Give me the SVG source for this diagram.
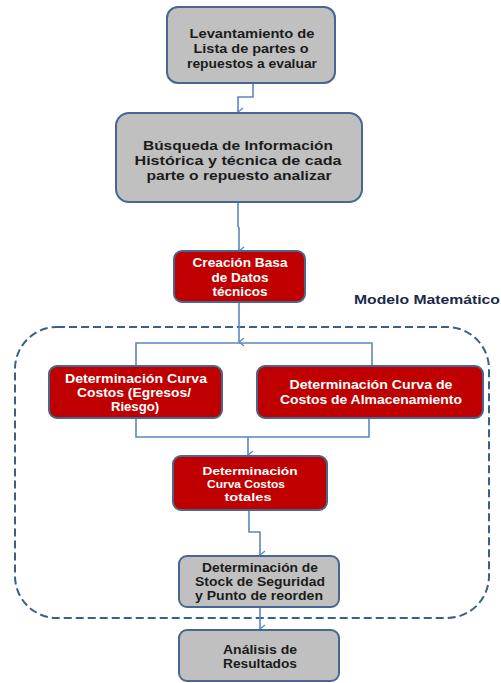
<svg xmlns="http://www.w3.org/2000/svg" width="501" height="683" viewBox="0 0 501 683">
  <style>
    .box { stroke: #46678f; stroke-width: 2; }
    .gray { fill: #c0c0c0; }
    .red { fill: #c00000; }
    .t { font-family: "Liberation Sans", Arial, sans-serif; font-weight: bold; font-size: 12.5px; text-anchor: middle; }
    .s { font-size: 11.5px; }
    .dark { fill: #1c1c1c; }
    .light { fill: #ffffff; }
    .link { fill: none; stroke: #5b87c0; stroke-width: 1.6; }
    .frame { fill: none; stroke: #3a5f8c; stroke-width: 2; stroke-dasharray: 8 4; }
  </style>
  <defs>
    <marker id="arrow" viewBox="0 0 10 10" refX="5" refY="9" markerWidth="10" markerHeight="10" markerUnits="userSpaceOnUse" orient="auto-start-reverse">
      <polyline points="1,4 5,9 9,4" fill="none" stroke="#5b87c0" stroke-width="1.4"/>
    </marker>
  </defs>

  <rect width="501" height="683" fill="#ffffff"/>

  <!-- dashed frame of the mathematical model -->
  <g id="modelo">
    <rect class="frame" x="15" y="327" width="474" height="291" rx="42" ry="42"/>
    <text class="t" x="427" y="304" fill="#1a2a48" font-size="13" textLength="146" lengthAdjust="spacingAndGlyphs">Modelo Matemático</text>
  </g>

  <!-- connectors -->
  <g id="connectors">
    <path class="link" d="M253,83 V97 H238 V112" marker-end="url(#arrow)"/>
    <path class="link" d="M238,202 V226 L239,228 V251" marker-end="url(#arrow)"/>
    <path class="link" d="M239,302 V342" marker-end="url(#arrow)"/>
    <path class="link" d="M136,366 V343 H372 V366"/>
    <path class="link" d="M136,418 V437 H369 V418"/>
    <path class="link" d="M248,437 V455" marker-end="url(#arrow)"/>
    <path class="link" d="M249,510 V532 H260 V555" marker-end="url(#arrow)"/>
    <path class="link" d="M260,607 V629" marker-end="url(#arrow)"/>
  </g>

  <g id="levantamiento">
    <rect class="box gray" x="167" y="7" width="168" height="76" rx="11"/>
    <text class="t dark" x="252" y="38" textLength="125" lengthAdjust="spacingAndGlyphs">Levantamiento  de</text>
    <text class="t dark" x="251" y="53" textLength="115" lengthAdjust="spacingAndGlyphs">Lista de partes  o</text>
    <text class="t dark" x="252" y="68" textLength="130" lengthAdjust="spacingAndGlyphs">repuestos a evaluar</text>
  </g>

  <g id="busqueda">
    <rect class="box gray" x="116" y="113" width="246" height="89" rx="13"/>
    <text class="t dark" x="238" y="150" textLength="190" lengthAdjust="spacingAndGlyphs">Búsqueda de Información</text>
    <text class="t dark" x="238" y="165" textLength="207" lengthAdjust="spacingAndGlyphs">Histórica y  técnica de  cada</text>
    <text class="t dark" x="239" y="180" textLength="185" lengthAdjust="spacingAndGlyphs">parte o  repuesto analizar</text>
  </g>

  <g id="base-datos">
    <rect class="box red" x="174" y="251" width="131" height="51" rx="8"/>
    <text class="t light" x="240" y="267" textLength="95" lengthAdjust="spacingAndGlyphs">Creación Basa</text>
    <text class="t light" x="240" y="282" textLength="57" lengthAdjust="spacingAndGlyphs">de Datos</text>
    <text class="t light" x="240" y="296" textLength="55" lengthAdjust="spacingAndGlyphs">técnicos</text>
  </g>

  <g id="curva-egresos">
    <rect class="box red" x="49" y="366" width="173" height="52" rx="8"/>
    <text class="t light" x="136" y="383" textLength="142" lengthAdjust="spacingAndGlyphs">Determinación Curva</text>
    <text class="t light" x="134" y="397" textLength="114" lengthAdjust="spacingAndGlyphs">Costos (Egresos/</text>
    <text class="t light" x="135" y="411" textLength="48" lengthAdjust="spacingAndGlyphs">Riesgo)</text>
  </g>

  <g id="curva-almacenamiento">
    <rect class="box red" x="257" y="366" width="226" height="52" rx="8"/>
    <text class="t light" x="371" y="389" textLength="163" lengthAdjust="spacingAndGlyphs">Determinación Curva de</text>
    <text class="t light" x="371" y="404" textLength="182" lengthAdjust="spacingAndGlyphs">Costos de Almacenamiento</text>
  </g>

  <g id="curva-totales">
    <rect class="box red" x="173" y="456" width="154" height="54" rx="8"/>
    <text class="t s light" x="250" y="475" textLength="95" lengthAdjust="spacingAndGlyphs">Determinación</text>
    <text class="t s light" x="246" y="488" textLength="78" lengthAdjust="spacingAndGlyphs">Curva Costos</text>
    <text class="t s light" x="248" y="501" textLength="47" lengthAdjust="spacingAndGlyphs">totales</text>
  </g>

  <g id="stock-seguridad">
    <rect class="box gray" x="179" y="556" width="160" height="51" rx="8"/>
    <text class="t dark" x="260" y="572" textLength="116" lengthAdjust="spacingAndGlyphs">Determinación de</text>
    <text class="t dark" x="260" y="586" textLength="130" lengthAdjust="spacingAndGlyphs">Stock de Seguridad</text>
    <text class="t dark" x="259" y="600" textLength="128" lengthAdjust="spacingAndGlyphs">y Punto de reorden</text>
  </g>

  <g id="analisis">
    <rect class="box gray" x="179" y="630" width="160" height="51" rx="8"/>
    <text class="t dark" x="260" y="654" textLength="74" lengthAdjust="spacingAndGlyphs">Análisis de</text>
    <text class="t dark" x="260" y="668" textLength="74" lengthAdjust="spacingAndGlyphs">Resultados</text>
  </g>
</svg>
